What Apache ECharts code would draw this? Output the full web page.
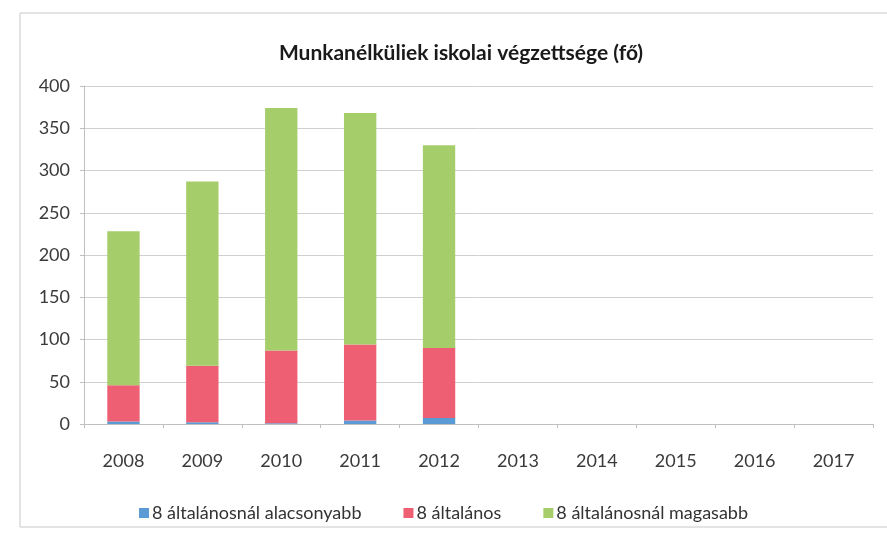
<!DOCTYPE html>
<html>
<head>
<meta charset="utf-8">
<script src="https://cdn.jsdelivr.net/npm/echarts@6/dist/echarts.min.js"></script>
<style>
html,body{margin:0;padding:0;background:#fff;}
#chart{width:887px;height:539px;}
</style>
</head>
<body>
<div id="chart"></div>
<script>
var years = ['2008', '2009', '2010', '2011', '2012', '2013', '2014', '2015', '2016', '2017'];
var seriesNames = ['8 általánosnál alacsonyabb', '8 általános', '8 általánosnál magasabb'];
var lowerData = [3, 2, 1, 4, 7, null, null, null, null, null];
var primaryData = [43, 67, 86, 90, 83, null, null, null, null, null];
var higherData = [182, 218, 287, 274, 240, null, null, null, null, null];
var yTicks = [0, 50, 100, 150, 200, 250, 300, 350, 400];

var colors = ['#5b9bd5', '#ee5f74', '#a5cd6a'];
var fontName = 'Lato';

var chart = echarts.init(document.getElementById('chart'));
var values = [lowerData, primaryData, higherData];
var series = [];
for (var i = 0; i < seriesNames.length; i++) {
    series.push({
        name: seriesNames[i],
        type: 'bar',
        stack: 'total',
        barWidth: '41%',
        data: values[i],
        itemStyle: { color: colors[i] }
    });
}

var option = {
    animation: false,
    textStyle: { fontFamily: fontName },
    title: {
        text: 'Munkanélküliek iskolai végzettsége (fő)',
        left: 456,
        top: 38,
        textAlign: 'center',
        textStyle: { fontSize: 21, fontWeight: 'bold', color: '#1a1a1a', fontFamily: fontName }
    },
    graphic: [{
        type: 'rect',
        shape: { x: 20, y: 13, width: 900, height: 514 },
        style: { fill: null, stroke: '#c8c8c8', lineWidth: 1 },
        silent: true
    }],
    legend: {
        bottom: 12,
        left: 'center',
        itemWidth: 10,
        itemHeight: 10,
        itemGap: 42,
        icon: 'rect',
        data: seriesNames,
        textStyle: { fontSize: 18, color: '#333', fontFamily: fontName, padding: [0, 0, 0, -2] }
    },
    grid: { left: 84, right: 14, top: 86, bottom: 115 },
    xAxis: {
        type: 'category',
        data: years,
        axisLine: { lineStyle: { color: '#bfbfbf' } },
        axisTick: { show: true, alignWithLabel: false, lineStyle: { color: '#bfbfbf' }, length: 4 },
        axisLabel: { color: '#3a3a3a', fontSize: 18, margin: 28 }
    },
    yAxis: {
        type: 'value',
        min: yTicks[0],
        max: yTicks[yTicks.length - 1],
        interval: 50,
        axisLine: { show: true, lineStyle: { color: '#bfbfbf' } },
        axisTick: { show: true, length: 4, lineStyle: { color: '#bfbfbf' } },
        axisLabel: { color: '#3a3a3a', fontSize: 18, margin: 14 },
        splitLine: { lineStyle: { color: '#d0d0d0' } }
    },
    series: series
};
chart.setOption(option);
</script>
</body>
</html>
